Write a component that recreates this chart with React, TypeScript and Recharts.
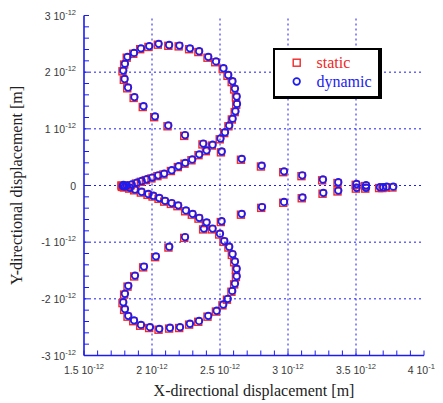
import { ScatterChart, Scatter, XAxis, YAxis, ReferenceLine, Legend, Label } from "recharts";

// values are in units of 10^-12 m
const xMinorTicks = [
  1.5, 1.6, 1.7, 1.8, 1.9, 2, 2.1, 2.2, 2.3, 2.4, 2.5, 2.6, 2.7, 2.8, 2.9, 3,
  3.1, 3.2, 3.3, 3.4, 3.5, 3.6, 3.7, 3.8, 3.9, 4,
];
const xMajorTicks = [1.5, 2, 2.5, 3, 3.5, 4];
const yMinorTicks = [
  -3, -2.8, -2.6, -2.4, -2.2, -2, -1.8, -1.6, -1.4, -1.2, -1, -0.8, -0.6, -0.4,
  -0.2, 0, 0.2, 0.4, 0.6, 0.8, 1, 1.2, 1.4, 1.6, 1.8, 2, 2.2, 2.4, 2.6, 2.8, 3,
];
const yMajorTicks = [-3, -2, -1, 0, 1, 2, 3];
const xGrid = [2, 2.5, 3, 3.5];
const yGrid = [-2, -1, 0, 1, 2];

const dynamicUpper: [number, number][] = [
  [3.774, -0.02], [3.726, -0.02], [3.676, -0.03], [3.574, 0.005], [3.504, 0.027],
  [3.37, 0.058], [3.257, 0.106], [3.105, 0.18], [2.971, 0.25], [2.807, 0.35],
  [2.66, 0.47], [2.513, 0.6], [2.377, 0.74], [2.243, 0.89], [2.12, 1.06],
  [2.022, 1.22], [1.938, 1.4], [1.871, 1.56], [1.824, 1.73], [1.799, 1.88],
  [1.789, 2.03], [1.801, 2.15], [1.82, 2.27], [1.868, 2.34], [1.919, 2.42],
  [1.98, 2.46], [2.049, 2.5], [2.126, 2.48], [2.202, 2.47], [2.279, 2.42],
  [2.347, 2.37], [2.414, 2.27], [2.471, 2.19], [2.526, 2.07], [2.561, 1.95],
  [2.592, 1.84], [2.61, 1.71], [2.623, 1.57], [2.625, 1.44], [2.614, 1.31],
  [2.593, 1.18], [2.568, 1.06], [2.537, 0.94], [2.504, 0.83], [2.446, 0.72],
  [2.402, 0.62], [2.348, 0.55], [2.296, 0.46], [2.245, 0.4], [2.196, 0.34],
  [2.145, 0.27], [2.09, 0.21], [2.046, 0.18], [2.002, 0.14], [1.961, 0.11],
  [1.924, 0.08], [1.888, 0.05], [1.851, 0.02], [1.814, 0.0], [1.785, -0.01],
  [1.79, 0.01], [1.8, -0.02],
];

const dynamicLower: [number, number][] = [
  [1.838, -0.04], [1.875, -0.07], [1.924, -0.11], [1.973, -0.15], [2.01, -0.18],
  [2.054, -0.22], [2.096, -0.27], [2.145, -0.31], [2.193, -0.35], [2.25, -0.44],
  [2.299, -0.5], [2.348, -0.57], [2.402, -0.65], [2.446, -0.76], [2.5, -0.85],
  [2.532, -0.98], [2.568, -1.08], [2.593, -1.21], [2.61, -1.34], [2.623, -1.47],
  [2.623, -1.6], [2.61, -1.73], [2.59, -1.86], [2.557, -2.0], [2.524, -2.1],
  [2.476, -2.21], [2.414, -2.3], [2.346, -2.39], [2.279, -2.44], [2.206, -2.5],
  [2.132, -2.51], [2.054, -2.53], [1.985, -2.5], [1.919, -2.46], [1.868, -2.38],
  [1.826, -2.3], [1.801, -2.18], [1.789, -2.06], [1.801, -1.91], [1.826, -1.77],
  [1.875, -1.59], [1.941, -1.43], [2.029, -1.25], [2.127, -1.08], [2.243, -0.91],
  [2.382, -0.76], [2.512, -0.63], [2.66, -0.5], [2.809, -0.38], [2.971, -0.29],
  [3.107, -0.21], [3.26, -0.13], [3.37, -0.09], [3.505, -0.04], [3.574, -0.04],
  [3.7, -0.03],
];

const staticUpper: [number, number][] = [
  [3.768, -0.035], [3.72, -0.035], [3.67, -0.045], [3.568, -0.01], [3.498, 0.012],
  [3.364, 0.043], [3.251, 0.091], [3.099, 0.165], [2.965, 0.235], [2.801, 0.335],
  [2.654, 0.455], [2.507, 0.585], [2.371, 0.725], [2.237, 0.875], [2.114, 1.045],
  [2.016, 1.205], [1.932, 1.385], [1.865, 1.545], [1.818, 1.715], [1.793, 1.865],
  [1.783, 2.015], [1.795, 2.135], [1.814, 2.255], [1.862, 2.325], [1.913, 2.405],
  [1.974, 2.445], [2.043, 2.485], [2.12, 2.465], [2.196, 2.455], [2.273, 2.405],
  [2.341, 2.355], [2.408, 2.255], [2.465, 2.175], [2.52, 2.055], [2.555, 1.935],
  [2.586, 1.825], [2.604, 1.695], [2.617, 1.555], [2.619, 1.425], [2.608, 1.295],
  [2.587, 1.165], [2.562, 1.045], [2.531, 0.925], [2.498, 0.815], [2.44, 0.705],
  [2.396, 0.605], [2.342, 0.535], [2.29, 0.445], [2.239, 0.385], [2.19, 0.325],
  [2.139, 0.255], [2.084, 0.195], [2.04, 0.165], [1.996, 0.125], [1.955, 0.095],
  [1.918, 0.065], [1.882, 0.035], [1.845, 0.005], [1.808, -0.015], [1.779, -0.025],
  [1.784, -0.005], [1.794, -0.035], [1.775, 0.0], [1.78, -0.02],
];

const staticLower: [number, number][] = [
  [1.832, -0.055], [1.869, -0.085], [1.918, -0.125], [1.967, -0.165], [2.004, -0.195],
  [2.048, -0.235], [2.09, -0.285], [2.139, -0.325], [2.187, -0.365], [2.244, -0.455],
  [2.293, -0.515], [2.342, -0.585], [2.396, -0.665], [2.44, -0.775], [2.494, -0.865],
  [2.526, -0.995], [2.562, -1.095], [2.587, -1.225], [2.604, -1.355], [2.617, -1.485],
  [2.617, -1.615], [2.604, -1.745], [2.584, -1.875], [2.551, -2.015], [2.518, -2.115],
  [2.47, -2.225], [2.408, -2.315], [2.34, -2.405], [2.273, -2.455], [2.2, -2.515],
  [2.126, -2.525], [2.048, -2.545], [1.979, -2.515], [1.913, -2.475], [1.862, -2.395],
  [1.82, -2.315], [1.795, -2.195], [1.783, -2.075], [1.795, -1.925], [1.82, -1.785],
  [1.869, -1.605], [1.935, -1.445], [2.023, -1.265], [2.121, -1.095], [2.237, -0.925],
  [2.376, -0.775], [2.506, -0.645], [2.654, -0.515], [2.803, -0.395], [2.965, -0.305],
  [3.101, -0.225], [3.254, -0.145], [3.364, -0.105], [3.499, -0.055], [3.568, -0.055],
  [3.694, -0.045],
];

const toRows = (pts: [number, number][]) => pts.map(([x, y]) => ({ x, y }));
const staticData = toRows([...staticUpper, ...staticLower]);
const dynamicData = toRows([...dynamicUpper, ...dynamicLower]);

const BLUE = "#1c1cf0";
const RED = "#f02828";
const SANS = "'Liberation Sans', Arial, sans-serif";
const SERIF = "'Liberation Serif', 'Times New Roman', serif";

function XTick({ x, y, payload }: any) {
  const v = payload.value;
  if (!xMajorTicks.includes(v)) return <g />;
  const last = v === xMajorTicks[xMajorTicks.length - 1];
  return (
    <text
      x={last ? x + 15 : x}
      y={y + 18}
      textAnchor={last ? "end" : "middle"}
      fontFamily={SANS}
      fontSize={10.5}
      fill="#383838"
    >
      <tspan>{`${v} 10`}</tspan>
      <tspan dy={-5} fontSize={7.5}>-12</tspan>
    </text>
  );
}

function YTick({ x, y, payload }: any) {
  const v = payload.value;
  if (!yMajorTicks.includes(v)) return <g />;
  if (v === 0) {
    return (
      <text x={x - 8} y={y + 4} textAnchor="end" fontFamily={SANS} fontSize={10.5} fill="#383838">
        0
      </text>
    );
  }
  return (
    <text x={x - 8} y={y + 4} textAnchor="end" fontFamily={SANS} fontSize={10.5} fill="#383838">
      <tspan>{`${v} 10`}</tspan>
      <tspan dy={-5} fontSize={7.5}>-12</tspan>
    </text>
  );
}

const Square = ({ cx, cy }: any) => (
  <rect x={cx - 3.5} y={cy - 3.5} width={7} height={7} fill="none" stroke={RED} strokeWidth={1.4} />
);
const Circle = ({ cx, cy }: any) => (
  <circle cx={cx} cy={cy} r={3.3} fill="none" stroke={BLUE} strokeWidth={1.7} />
);

function LegendBox() {
  return (
    <div
      style={{
        boxSizing: "border-box",
        width: 109,
        height: 51,
        background: "#fff",
        borderStyle: "solid",
        borderColor: "#000",
        borderWidth: "2px 4px 3px 2px",
      }}
    >
      <svg width={103} height={46} style={{ display: "block" }}>
        <rect x={18.2} y={9.2} width={7} height={7} fill="none" stroke={RED} strokeWidth={1.4} />
        <circle cx={21.7} cy={31.5} r={3.3} fill="none" stroke={BLUE} strokeWidth={1.7} />
        <text x={41.5} y={18} fontFamily={SERIF} fontSize={16} fill={RED}>
          static
        </text>
        <text x={41.5} y={37} fontFamily={SERIF} fontSize={16} fill={BLUE}>
          dynamic
        </text>
      </svg>
    </div>
  );
}

const renderXTitle = ({ viewBox }: any) => (
  <text
    x={viewBox.x + viewBox.width / 2}
    y={viewBox.y + 40.5}
    textAnchor="middle"
    fontFamily={SERIF}
    fontSize={16}
    fill="#222"
  >
    X-directional displacement [m]
  </text>
);

const renderYTitle = ({ viewBox }: any) => {
  const cy = viewBox.y + viewBox.height / 2;
  return (
    <text
      x={14}
      y={cy}
      transform={`rotate(-90, 14, ${cy})`}
      textAnchor="middle"
      fontFamily={SERIF}
      fontSize={16}
      fill="#222"
    >
      Y-directional displacement [m]
    </text>
  );
};

export default function App() {
  return (
    <>
      <style>{`html, body { overflow: hidden; } .recharts-surface { overflow: visible; } .recharts-wrapper { overflow: visible; }`}</style>
      <ScatterChart width={435} height={395} margin={{ top: 7.5, right: 19, bottom: 0, left: 0 }}>
        <XAxis
          xAxisId="x"
          type="number"
          dataKey="x"
          domain={[1.5, 4]}
          ticks={xMinorTicks}
          interval={0}
          allowDataOverflow
          height={47.5}
          tickSize={-5}
          tickMargin={5}
          tick={<XTick />}
          axisLine={{ stroke: BLUE, strokeWidth: 1.6 }}
          tickLine={{ stroke: BLUE, strokeWidth: 1 }}
        >
          <Label content={renderXTitle} />
        </XAxis>
        <XAxis
          xAxisId="xt"
          orientation="top"
          type="number"
          domain={[1.5, 4]}
          ticks={xMinorTicks}
          interval={0}
          allowDataOverflow
          height={0}
          tickSize={-5}
          tick={false}
          axisLine={{ stroke: BLUE, strokeWidth: 1.6 }}
          tickLine={{ stroke: BLUE, strokeWidth: 1 }}
        />
        <YAxis
          yAxisId="y"
          type="number"
          dataKey="y"
          domain={[-3, 3]}
          ticks={yMinorTicks}
          interval={0}
          allowDataOverflow
          width={76}
          tickSize={-5}
          tickMargin={5}
          tick={<YTick />}
          axisLine={{ stroke: BLUE, strokeWidth: 1.6 }}
          tickLine={{ stroke: BLUE, strokeWidth: 1 }}
        >
          <Label content={renderYTitle} />
        </YAxis>
        <YAxis
          yAxisId="yr"
          orientation="right"
          type="number"
          domain={[-3, 3]}
          ticks={yMinorTicks}
          interval={0}
          allowDataOverflow
          width={0}
          tickSize={-5}
          tick={false}
          axisLine={{ stroke: BLUE, strokeWidth: 1.6 }}
          tickLine={{ stroke: BLUE, strokeWidth: 1 }}
        />
        {xGrid.map((v) => (
          <ReferenceLine key={`gx${v}`} xAxisId="x" yAxisId="y" x={v} stroke={BLUE} strokeDasharray="2 3" />
        ))}
        {yGrid.map((v) => (
          <ReferenceLine key={`gy${v}`} xAxisId="x" yAxisId="y" y={v} stroke={BLUE} strokeDasharray="2 3" />
        ))}
        <Legend
          layout="vertical"
          align="center"
          verticalAlign="middle"
          wrapperStyle={{ left: 265, top: 40, width: 109, height: 51 }}
          content={() => <LegendBox />}
        />
        <Scatter
          name="static"
          xAxisId="x"
          yAxisId="y"
          data={staticData}
          shape={Square}
          isAnimationActive={false}
        />
        <Scatter
          name="dynamic"
          xAxisId="x"
          yAxisId="y"
          data={dynamicData}
          shape={Circle}
          isAnimationActive={false}
        />
      </ScatterChart>
    </>
  );
}
